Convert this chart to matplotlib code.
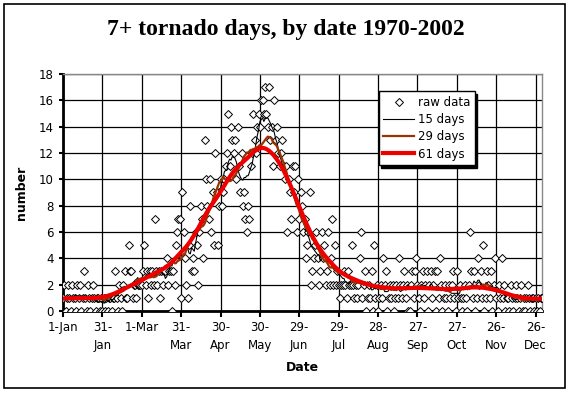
import numpy as np
import matplotlib
matplotlib.use("Agg")
import matplotlib.pyplot as plt
from matplotlib.patches import Rectangle

# daily count of 7+ tornado days, 1970-2002 (one list per month)
jan = [1, 2, 0, 1, 2, 1, 0, 2, 1, 1, 0, 2, 1, 2, 0, 1, 3, 1, 0, 2, 1, 0, 1, 2, 1, 0, 1, 1, 0, 1, 0]
feb = [1, 0, 1, 0, 1, 1, 0, 1, 1, 3, 1, 0, 2, 1, 0, 2, 3, 1, 1, 5, 3, 3, 1, 2, 2, 1, 2, 2, 2]
mar = [2, 3, 5, 2, 3, 1, 3, 2, 3, 2, 7, 3, 2, 3, 1, 3, 2, 3, 3, 4, 2, 3, 3, 0, 3, 2, 5, 6, 7, 7, 1]
apr = [9, 6, 4, 2, 1, 5, 8, 3, 4, 3, 6, 5, 2, 6, 8, 7, 4, 13, 10, 8, 7, 10, 6, 9, 5, 12, 9, 5, 8, 10]
may = [8, 9, 10, 11, 12, 15, 11, 14, 13, 12, 13, 10, 14, 11, 9, 12, 8, 9, 7, 6, 8, 7, 11, 12, 15,
       13, 12, 14, 15, 14, 16]
jun = [16, 15, 17, 15, 14, 17, 13, 14, 11, 16, 13, 14, 12, 11, 12, 13, 11, 10, 11, 6, 10, 9, 7, 11, 9,
       11, 6, 10, 7, 9]
jul = [8, 6, 7, 4, 5, 6, 9, 2, 3, 4, 5, 6, 4, 2, 3, 6, 4, 5, 2, 3, 6, 2, 4, 7, 2, 5, 2, 3, 2, 1, 2]
aug = [2, 3, 2, 1, 3, 2, 2, 5, 2, 1, 2, 1, 2, 4, 6, 1, 2, 3, 0, 1, 2, 1, 3, 0, 5, 1, 2, 0, 1, 2, 1]
sep = [4, 2, 3, 0, 1, 2, 1, 2, 0, 1, 2, 1, 4, 2, 1, 2, 3, 1, 2, 0, 0, 2, 3, 1, 3, 4, 2, 1, 0, 2]
oct_ = [3, 1, 2, 3, 0, 2, 3, 1, 2, 3, 0, 3, 1, 4, 2, 0, 1, 2, 1, 0, 2, 1, 2, 3, 1, 0, 3, 1, 2, 1, 0]
nov = [1, 2, 1, 0, 2, 6, 3, 1, 3, 0, 1, 4, 2, 3, 1, 5, 0, 1, 3, 2, 1, 3, 0, 2, 4, 1, 0, 2, 1, 4]
dec = [1, 2, 0, 1, 1, 0, 2, 1, 0, 1, 2, 1, 0, 1, 2, 0, 1, 0, 1, 2, 1, 0, 1, 1, 0, 1, 0, 1, 0, 1, 1]

tick_days = [0, 30, 60, 90, 120, 150, 180, 210, 240, 270, 300, 330, 360]
tick_labels = ["1-Jan", "31-\nJan", "1-Mar", "31-\nMar", "30-\nApr", "30-\nMay", "29-\nJun",
               "29-\nJul", "28-\nAug", "27-\nSep", "27-\nOct", "26-\nNov", "26-\nDec"]

raw = np.array(jan + feb + mar + apr + may + jun + jul + aug + sep + oct_ + nov + dec, dtype=float)
days = np.arange(len(raw))


def smooth(v, n, weights=None):
    # centred moving average over n days, wrapping round the year
    k = n // 2
    w = np.ones(n) if weights is None else weights
    ext = np.concatenate([v[-k:], v, v[:k]])
    return np.convolve(ext, w / w.sum(), mode="valid")


tri61 = np.concatenate([np.arange(1, 32), np.arange(30, 0, -1)]).astype(float)

fig = plt.figure(figsize=(5.72, 3.94), dpi=100)
fig.patches.append(Rectangle((0.007, 0.015), 0.981, 0.975, transform=fig.transFigure,
                             fill=False, edgecolor="black", linewidth=1.2))

ax = fig.add_axes([0.110, 0.211, 0.838, 0.601])

ax.plot(days, raw, linestyle="none", marker="D", markersize=4.2, markerfacecolor="white",
        markeredgecolor="black", markeredgewidth=0.7, label="raw data", zorder=3)
ax.plot(days, smooth(raw, 15), color="black", linewidth=0.8, label="15 days", zorder=4)
ax.plot(days, smooth(raw, 29), color="#993300", linewidth=1.6, label="29 days", zorder=5)
ax.plot(days, smooth(raw, 61, tri61), color="#ee0000", linewidth=3.0, label="61 days", zorder=6)

ax.set_xlim(0, 365)
ax.set_ylim(0, 18)
ax.set_yticks(range(0, 19, 2))
ax.set_xticks(tick_days)
ax.set_xticklabels(tick_labels, fontsize=8.5, linespacing=1.5)
ax.tick_params(axis="y", labelsize=8.5, length=3, width=1.5)
ax.tick_params(axis="x", length=4, width=1.5)
ax.grid(True, color="black", linewidth=0.9, zorder=0)
ax.set_axisbelow(True)

for side in ["left", "bottom"]:
    ax.spines[side].set_linewidth(2)
for side in ["top", "right"]:
    ax.spines[side].set_color("#888888")
    ax.spines[side].set_linewidth(1)

ax.set_xlabel("Date", fontsize=9, fontweight="bold", labelpad=6)
ax.set_ylabel("number", fontsize=9, fontweight="bold", labelpad=8)

fig.text(0.5, 0.925, "7+ tornado days, by date 1970-2002", ha="center", va="center",
         fontsize=17, fontweight="bold", family="Liberation Serif")

leg = ax.legend(loc="upper left", bbox_to_anchor=(0.662, 0.768), bbox_transform=fig.transFigure,
                fontsize=8.5, frameon=True, fancybox=False, edgecolor="black",
                shadow={"color": "black", "alpha": 1.0}, borderpad=0.4, labelspacing=0.35,
                handlelength=2.6, handletextpad=0.3, borderaxespad=0)
leg.get_frame().set_linewidth(1)
leg.get_frame().set_alpha(1)

fig.savefig("out.png", dpi=100)
